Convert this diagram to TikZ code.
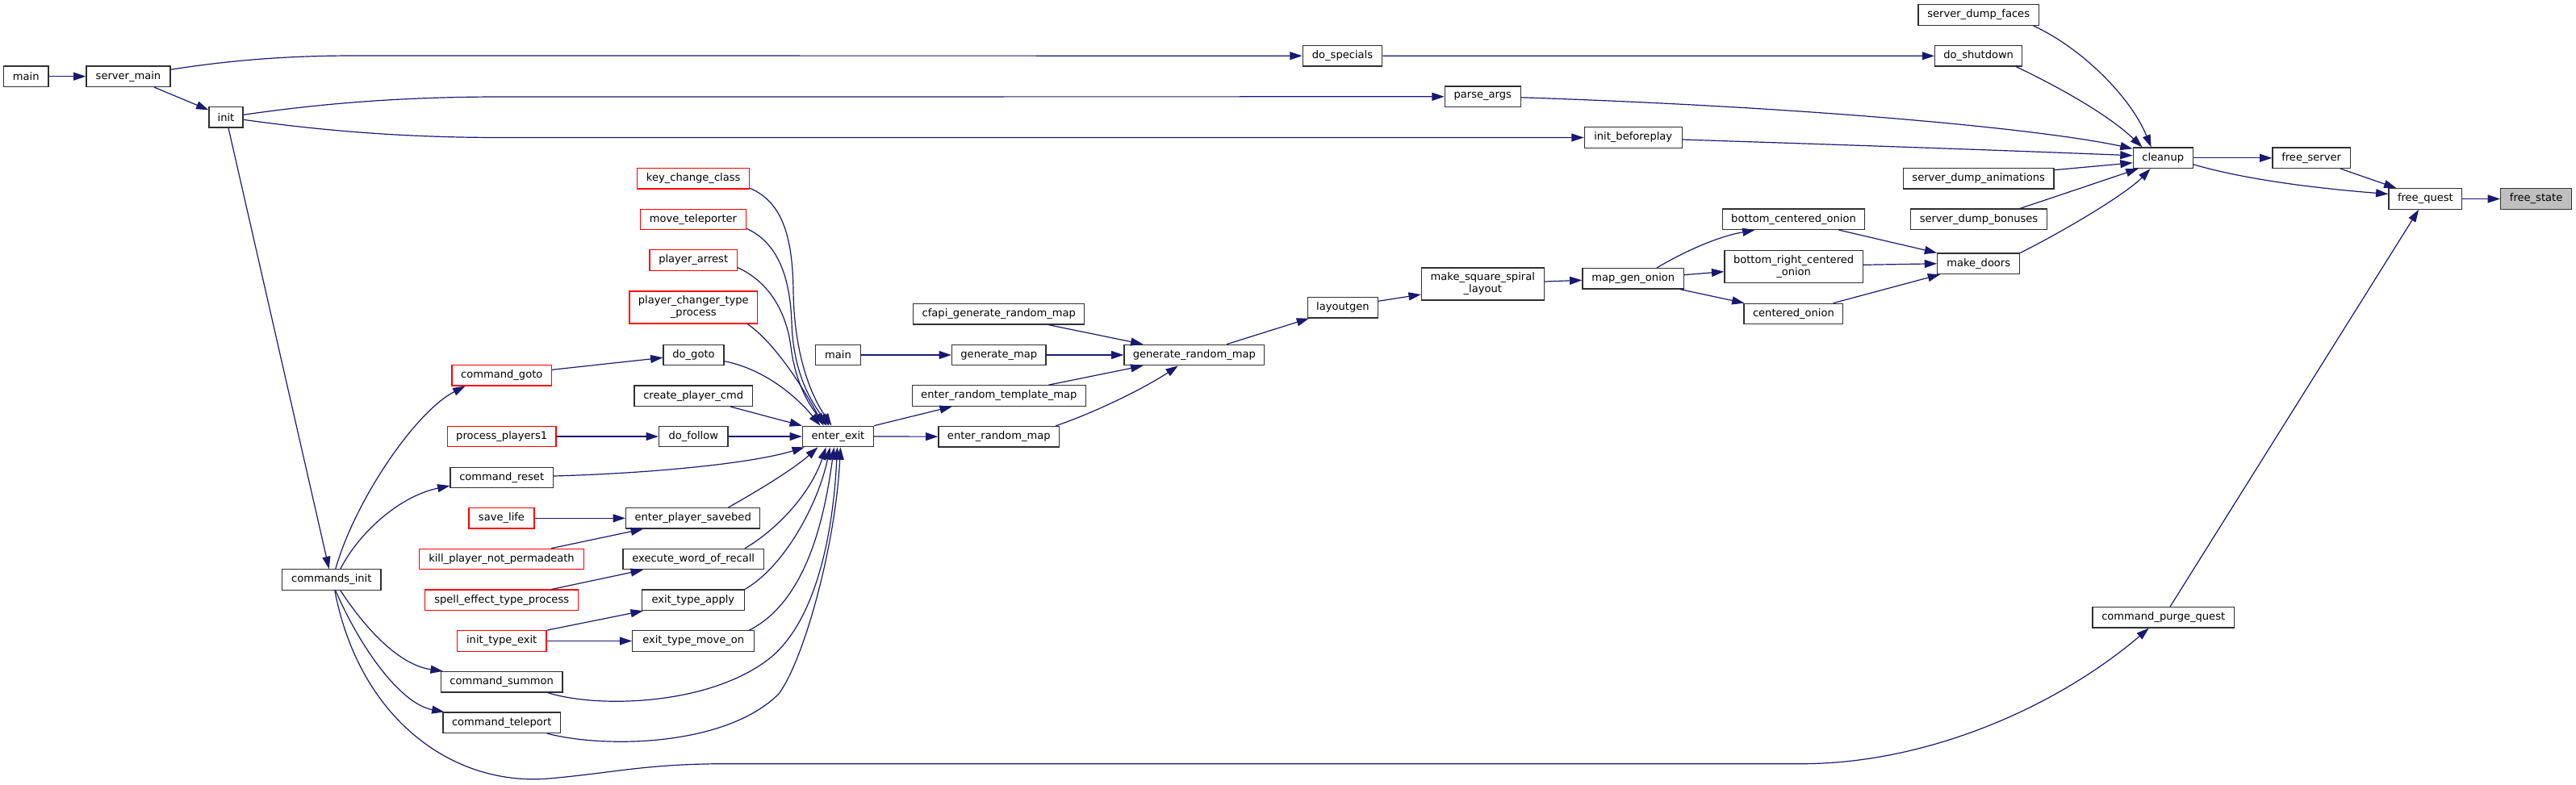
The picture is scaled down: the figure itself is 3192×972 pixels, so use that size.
\documentclass[tikz,border=0pt]{standalone}
\usepackage{fontspec}
\newfontfamily\dvsfam{DejaVu Sans}
\newcommand\dvs{\dvsfam\fontsize{9.8pt}{11.25pt}\selectfont}
\usetikzlibrary{arrows.meta,calc}
\definecolor{nodegray}{RGB}{48,48,48}
\definecolor{fillgray}{RGB}{191,191,191}
\definecolor{edgeblue}{RGB}{25,25,112}
\definecolor{nodered}{RGB}{255,0,0}
\tikzset{
  nb/.style={draw=nodegray, fill=white, line width=0.9pt, inner sep=0pt, minimum height=25.5*0.75pt, font=\dvs, align=center},
  rb/.style={draw=nodered},
  tb/.style={minimum height=40*0.75pt},
  gb/.style={fill=fillgray},
  e/.style={draw=edgeblue, line width=0.9pt, -{Triangle[length=11.5pt,width=7.5pt]}}
}
\newcommand\nd[5][]{\node[nb,#1,minimum width={#4*0.75pt}] (#2) at (#3) {#5};}
\begin{document}
\begin{tikzpicture}[x=0.75pt,y=-0.75pt]
\fill[white] (0,0) rectangle (3192,972);
\useasboundingbox (0,0) rectangle (3192,972);
% nodes
\nd{main}{32.3,94.7}{55.3}{main}
\nd{server_main}{159,94.7}{104}{server\_main}
\nd{init}{280,145.3}{42}{init}
\nd{commands_init}{410.8,718.5}{122.5}{commands\_init}
\nd[rb]{command_goto}{621.8,465.3}{123.5}{command\_goto}
\nd[rb]{process_players1}{621.7,541}{134.6}{process\_players1}
\nd{command_reset}{621.7,592}{127.3}{command\_reset}
\nd[rb]{save_life}{621.5,642.3}{81}{save\_life}
\nd[rb]{kill_player}{621.5,693}{204}{kill\_player\_not\_permadeath}
\nd[rb]{spell_effect}{621.7,743.8}{190.3}{spell\_effect\_type\_process}
\nd[rb]{init_type_exit}{621.7,794.5}{110.7}{init\_type\_exit}
\nd{command_summon}{621.7,845.2}{150.6}{command\_summon}
\nd{command_teleport}{621.7,895.8}{145.4}{command\_teleport}
\nd[rb]{key_change_class}{859.2,221.3}{139}{key\_change\_class}
\nd[rb]{move_teleporter}{859,272}{131}{move\_teleporter}
\nd[rb]{player_arrest}{859.2,322.5}{108.4}{player\_arrest}
\nd[rb,tb]{player_changer}{859.3,381}{158.8}{player\_changer\_type\\\_process}
\nd{do_goto}{859.5,440}{75}{do\_goto}
\nd{create_player_cmd}{859.2,490.7}{146.5}{create\_player\_cmd}
\nd{do_follow}{859.3,541}{85.4}{do\_follow}
\nd{enter_player_savebed}{858.7,642.3}{166.3}{enter\_player\_savebed}
\nd{execute_word_of_recall}{859.2,693}{174.4}{execute\_word\_of\_recall}
\nd{exit_type_apply}{858.9,743.8}{127}{exit\_type\_apply}
\nd{exit_type_move_on}{859.2,794.5}{151}{exit\_type\_move\_on}
\nd{enter_exit}{1038.5,541}{88}{enter\_exit}
\nd{mainb}{1038.5,440}{55.3}{main}
\nd{cfapi}{1237.8,389.3}{212}{cfapi\_generate\_random\_map}
\nd{generate_map}{1237.8,440}{116.5}{generate\_map}
\nd{ertm}{1237.8,490.5}{214.8}{enter\_random\_template\_map}
\nd{erm}{1237.8,541.2}{149.6}{enter\_random\_map}
\nd{grm}{1479.8,440}{173.6}{generate\_random\_map}
\nd{layoutgen}{1663.9,381.3}{86.6}{layoutgen}
\nd[tb]{mssl}{1837.3,352}{151.8}{make\_square\_spiral\\\_layout}
\nd{mgo}{2023.7,345.3}{125.4}{map\_gen\_onion}
\nd{bco}{2222.5,271.7}{176}{bottom\_centered\_onion}
\nd[tb]{brco}{2222.6,330.7}{171.4}{bottom\_right\_centered\\\_onion}
\nd{co}{2222.4,389}{122.7}{centered\_onion}
\nd{make_doors}{2451.7,326.8}{102}{make\_doors}
\nd{do_specials}{1663.5,69.2}{98.5}{do\_specials}
\nd{parse_args}{1837.3,119.8}{94}{parse\_args}
\nd{init_beforeplay}{2023.7,170.5}{121}{init\_beforeplay}
\nd{sdf}{2451.7,18.5}{149.4}{server\_dump\_faces}
\nd{do_shutdown}{2451.7,69.3}{108}{do\_shutdown}
\nd{sda}{2451.7,221.3}{186.4}{server\_dump\_animations}
\nd{sdb}{2452,271.8}{168.5}{server\_dump\_bonuses}
\nd{cleanup}{2680.2,195.8}{74}{cleanup}
\nd{free_server}{2864.1,195.8}{96.2}{free\_server}
\nd{free_quest}{3005.4,246.5}{90.8}{free\_quest}
\nd[gb]{free_state}{3142.6,246.5}{88}{free\_state}
\nd{cpq}{2680.7,765.3}{175.3}{command\_purge\_quest}
% edges
\draw[e] (main) -- (server_main);
\draw[e] (server_main) -- (init);
\draw[e] ($(server_main.east)+(0,-8.5)$) .. controls (290,74) and (360,69) .. (440,69) -- (do_specials.west);
\draw[e] ($(init.east)+(0,-3)$) .. controls (400,128) and (500,120) .. (620,120) -- (parse_args.west);
\draw[e] ($(init.east)+(0,3)$) .. controls (400,162) and (500,170.5) .. (620,170.5) -- (init_beforeplay.west);
\draw[e] (init) -- (commands_init);
\draw[e] (do_specials) -- (do_shutdown);
\draw[e] ($(parse_args.east)+(0,1)$) .. controls (2250,133) and (2530,160) .. ($(cleanup.west)+(0,-11.5)$);
\draw[e] ($(init_beforeplay.east)+(0,2.5)$) .. controls (2300,180) and (2500,187) .. ($(cleanup.west)+(0,-3)$);
\draw[e] ($(do_shutdown.south east)+(-8,0)$) .. controls (2545,105) and (2610,140) .. ($(cleanup.north west)+(12,0)$);
\draw[e] ($(sdf.south east)+(-7.4,0)$) .. controls (2580,60) and (2640,120) .. ($(cleanup.north west)+(23,0)$);
\draw[e] ($(sda.east)+(0,-10.6)$) -- ($(cleanup.west)+(0,6)$);
\draw[e] ($(sdb.north)+(51,0)$) -- ($(cleanup.south west)+(7,0)$);
\draw[e] (make_doors.north east) .. controls (2560,285) and (2635,240) .. ($(cleanup.south west)+(22,0)$);
\draw[e] (cleanup) -- (free_server);
\draw[e] ($(cleanup.east)+(0,8)$) .. controls (2790,225) and (2890,235) .. ($(free_quest.west)+(0,-6)$);
\draw[e] ($(free_server.south east)+(-12.5,0)$) -- ($(free_quest.north west)+(10,0)$);
\draw[e] (free_quest) -- (free_state);
\draw[e] (cpq) -- (free_quest);
\draw[e] ($(commands_init.south)+(4,0)$) .. controls (445,890) and (560,975) .. (680,965) .. controls (760,958) and (800,946.7) .. (900,946.7) -- (2232,946.7) .. controls (2390,946.7) and (2550,875) .. ($(cpq.south)+(-18,0)$);
\draw[e] ($(commands_init.north)+(5,0)$) .. controls (440,620) and (515,510) .. ($(command_goto.south west)+(17,0)$);
\draw[e] ($(commands_init.north)+(11,0)$) .. controls (445,660) and (495,615) .. ($(command_reset.south west)+(0,-3.3)$);
\draw[e] ($(commands_init.south)+(11,0)$) .. controls (460,790) and (500,825) .. ($(command_summon.north west)+(3,0)$);
\draw[e] ($(commands_init.south)+(5,0)$) .. controls (445,800) and (495,872) .. ($(command_teleport.north west)+(2,0)$);
\draw[e] ($(command_goto.east)+(0,-7)$) -- ($(do_goto.west)+(0,3.3)$);
\draw[e] (process_players1) -- (do_follow);
\draw[e] ($(do_goto.east)+(0,7.7)$) .. controls (950,458) and (990,495) .. ($(enter_exit.north)+(-22,0)$);
\draw[e] (do_follow) -- (enter_exit);
\draw[e] ($(create_player_cmd.south east)+(-28,0)$) -- (enter_exit.north west);
\draw[e] ($(key_change_class.east)+(0,12)$) .. controls (968,250) and (982,290) .. (983,360) .. controls (984,440) and (1005,490) .. ($(enter_exit.north)+(-8,0)$);
\draw[e] ($(move_teleporter.east)+(0,11.3)$) .. controls (962,300) and (979,340) .. (981,400) .. controls (983,460) and (1003,495) .. ($(enter_exit.north)+(-11,0)$);
\draw[e] ($(player_arrest.east)+(0,9.2)$) .. controls (955,350) and (975,390) .. (980,430) .. controls (985,470) and (1000,500) .. ($(enter_exit.north)+(-14,0)$);
\draw[e] ($(player_changer.south east)+(-13,0)$) .. controls (960,425) and (995,480) .. ($(enter_exit.north)+(-18,0)$);
\draw[e] ($(command_reset.east)+(0,-2)$) .. controls (800,587) and (930,575) .. ($(enter_exit.south west)+(3,0)$);
\draw[e] ($(enter_player_savebed.north east)+(-40,0)$) .. controls (945,605) and (985,580) .. ($(enter_exit.south)+(-25,0)$);
\draw[e] ($(execute_word_of_recall.north east)+(-24,0)$) .. controls (965,655) and (1005,610) .. ($(enter_exit.south)+(-15,0)$);
\draw[e] (exit_type_apply.north east) .. controls (975,700) and (1015,620) .. ($(enter_exit.south)+(-10,0)$);
\draw[e] ($(exit_type_move_on.north east)+(-7,0)$) .. controls (1000,745) and (1022,640) .. ($(enter_exit.south)+(-5,0)$);
\draw[e] ($(command_summon.south east)+(-19,0)$) .. controls (740,878) and (880,875) .. (955,815) .. controls (1015,765) and (1033,650) .. ($(enter_exit.south)+(-1,0)$);
\draw[e] ($(command_teleport.south east)+(-17,0)$) .. controls (750,928) and (900,925) .. (965,860) .. controls (995,820) and (1035,680) .. ($(enter_exit.south)+(3,0)$);
\draw[e] (save_life) -- (enter_player_savebed);
\draw[e] ($(kill_player.north east)+(-41,0)$) -- ($(enter_player_savebed.south west)+(22,0)$);
\draw[e] ($(spell_effect.north east)+(-34,0)$) -- ($(execute_word_of_recall.south west)+(25.5,0)$);
\draw[e] (init_type_exit.north east) -- ($(exit_type_apply.south west)+(2,0)$);
\draw[e] (init_type_exit) -- (exit_type_move_on);
\draw[e] (enter_exit.north east) -- ($(ertm.south west)+(50,0)$);
\draw[e] (enter_exit) -- (erm);
\draw[e] (mainb) -- (generate_map);
\draw[e] (generate_map) -- (grm);
\draw[e] ($(cfapi.south east)+(-45,0)$) -- ($(grm.north west)+(24,0)$);
\draw[e] ($(ertm.north east)+(-46.5,0)$) -- ($(grm.south west)+(24,0)$);
\draw[e] ($(erm.north east)+(-5,0)$) .. controls (1360,510) and (1420,480) .. ($(grm.south)+(-20,0)$);
\draw[e] ($(grm.north east)+(-47,0)$) -- ($(layoutgen.south west)+(2,0)$);
\draw[e] ($(layoutgen.east)+(0,-8)$) -- ($(mssl.west)+(0,13)$);
\draw[e] ($(mssl.east)+(0,-3)$) -- ($(mgo.west)+(0,2)$);
\draw[e] ($(mgo.north east)+(-34,0)$) .. controls (2090,310) and (2130,293) .. ($(bco.south west)+(40.6,0)$);
\draw[e] ($(mgo.east)+(0,-4.6)$) -- ($(brco.west)+(0,6)$);
\draw[e] ($(mgo.south east)+(-5,0)$) -- ($(co.north west)+(1,0)$);
\draw[e] ($(bco.south east)+(-32.6,0)$) -- (make_doors.north west);
\draw[e] ($(brco.east)+(0,-2.4)$) -- (make_doors.west);
\draw[e] ($(co.north east)+(-12.7,0)$) -- ($(make_doors.south west)+(4,0)$);
\end{tikzpicture}
\end{document}
